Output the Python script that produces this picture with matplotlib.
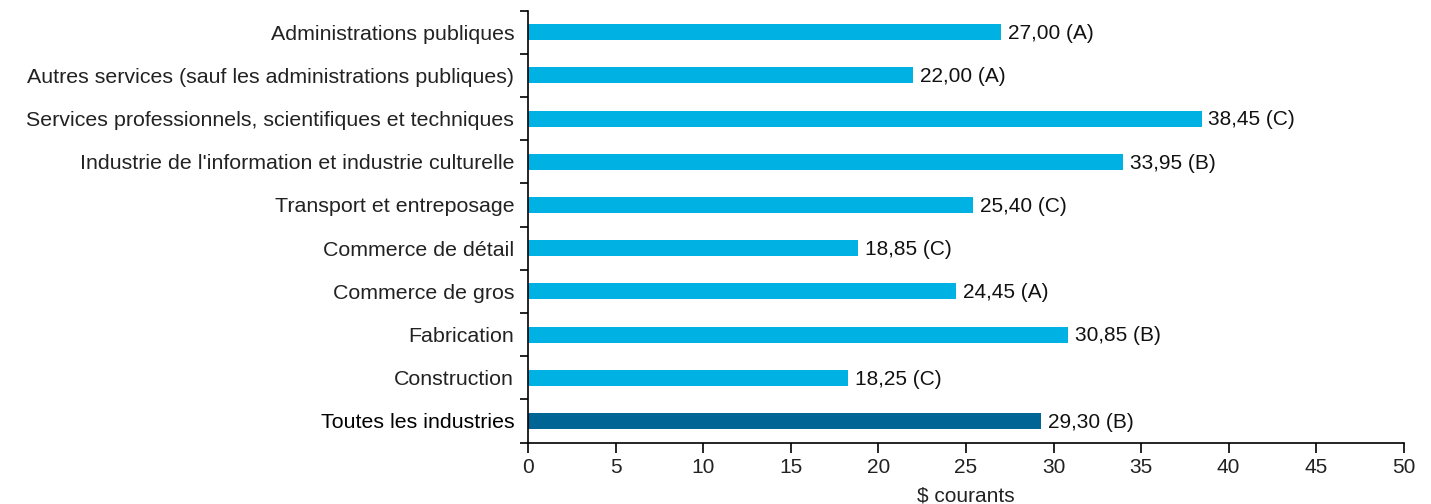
import numpy as np
import matplotlib.pyplot as plt

industries = [
    "Toutes les industries",
    "Construction",
    "Fabrication",
    "Commerce de gros",
    "Commerce de détail",
    "Transport et entreposage",
    "Industrie de l'information et industrie culturelle",
    "Services professionnels, scientifiques et techniques",
    "Autres services (sauf les administrations publiques)",
    "Administrations publiques",
]
salaires = [29.30, 18.25, 30.85, 24.45, 18.85, 25.40, 33.95, 38.45, 22.00, 27.00]
qualite = ["B", "C", "B", "A", "C", "C", "B", "C", "A", "A"]
x_ticks = [0, 5, 10, 15, 20, 25, 30, 35, 40, 45, 50]

plt.rcParams['font.family'] = ['Liberation Sans', 'DejaVu Sans']

fig = plt.figure(figsize=(14.31, 5.04), dpi=100)
ax = fig.add_axes([0.369, 0.122, 0.612, 0.857])

y = np.arange(len(industries))
couleurs = ['#006595'] + ['#00b2e3'] * (len(industries) - 1)
ax.barh(y, salaires, height=0.37, color=couleurs)

for yi, v, q in zip(y, salaires, qualite):
    txt = f"{v:.2f}".replace('.', ',') + f" ({q})"
    ax.annotate(txt, (v, yi), xytext=(5, -1), textcoords='offset points',
                va='center', ha='left', fontsize=15, color='#111111')

ax.set_xlim(0, 50)
ax.set_ylim(-0.5, len(industries) - 0.5)
ax.set_xticks(x_ticks)
ax.set_xticklabels([str(t) for t in x_ticks], fontsize=15, color='#222222')
ax.set_yticks(y)
ax.set_yticklabels(industries, fontsize=15.4, color='#222222')
ax.get_yticklabels()[0].set_color('#000000')
ax.tick_params(axis='y', length=0, pad=10)
ax.set_yticks(np.arange(len(industries) + 1) - 0.5, minor=True)
ax.tick_params(axis='y', which='minor', length=6, width=1.2)
ax.tick_params(axis='x', length=7, width=1.2, pad=4)
ax.set_xlabel("$ courants", fontsize=15, color='#222222', labelpad=7)

for s in ['top', 'right']:
    ax.spines[s].set_visible(False)
ax.spines['left'].set_linewidth(1.2)
ax.spines['bottom'].set_linewidth(1.2)

fig.savefig('out.png', dpi=100)
